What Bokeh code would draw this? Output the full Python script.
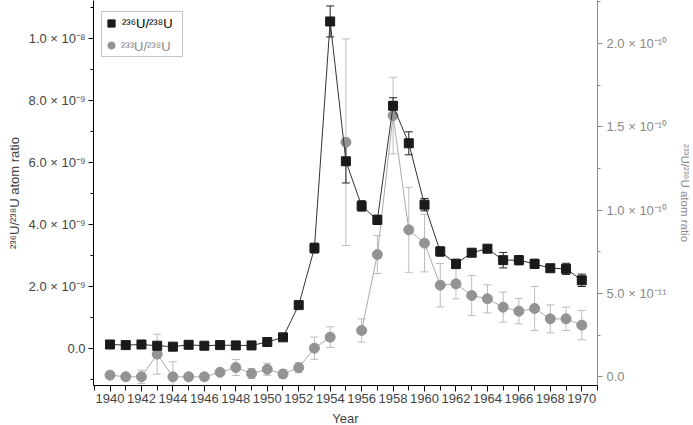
import numpy as np
from bokeh.plotting import figure
from bokeh.models import (ColumnDataSource, Range1d, LinearAxis, SingleIntervalTicker,
                          CustomJSTickFormatter, Whisker, TeeHead, Legend, LegendItem)
from bokeh.embed import file_html
from bokeh.resources import INLINE

# ---- data ----
years = [1940, 1941, 1942, 1943, 1944, 1945, 1946, 1947, 1948, 1949, 1950,
         1951, 1952, 1953, 1954, 1955, 1956, 1957, 1958, 1959, 1960,
         1961, 1962, 1963, 1964, 1965, 1966, 1967, 1968, 1969, 1970]

# 236U/238U atom ratio (units of 1e-9)
u236_e9 = [0.12, 0.10, 0.12, 0.08, 0.05, 0.11, 0.08, 0.10, 0.09, 0.09, 0.20,
           0.35, 1.39, 3.23, 10.54, 6.03, 4.59, 4.14, 7.82, 6.61, 4.63,
           3.12, 2.72, 3.08, 3.21, 2.84, 2.84, 2.72, 2.58, 2.56, 2.19]
u236_err_e9 = [0.03, 0.03, 0.03, 0.03, 0.03, 0.03, 0.03, 0.03, 0.03, 0.03, 0.05,
               0.05, 0.05, 0.16, 0.50, 0.70, 0.17, 0.15, 0.26, 0.37, 0.20,
               0.15, 0.15, 0.10, 0.08, 0.25, 0.15, 0.15, 0.10, 0.18, 0.20]

# 233U/238U atom ratio (units of 1e-11)
u233_e11 = [0.10, 0.0, 0.0, 1.36, 0.0, 0.0, 0.0, 0.27, 0.56, 0.20, 0.45,
            0.17, 0.55, 1.72, 2.38, 14.08, 2.78, 7.34, 15.68, 8.82, 8.02,
            5.50, 5.58, 4.88, 4.68, 4.18, 3.94, 4.10, 3.48, 3.48, 3.10]
u233_err_e11 = [0.10, 0.10, 0.40, 1.20, 0.90, 0.15, 0.20, 0.15, 0.48, 0.30, 0.36,
                0.25, 0.30, 0.67, 0.62, 6.20, 0.70, 1.14, 2.30, 2.55, 1.72,
                1.30, 0.90, 1.20, 0.84, 0.90, 0.76, 1.32, 0.84, 0.70, 0.88]
u233_unconnected_year = 1955

x_ticks_major = 2
left_label = "\u00b2\u00b3\u2076U/\u00b2\u00b3\u2078U atom ratio"
right_label = "\u00b2\u00b3\u00b3U/\u00b2\u00b3\u2078U atom ratio"
legend_236 = "\u00b2\u00b3\u2076U/\u00b2\u00b3\u2078U"
legend_233 = "\u00b2\u00b3\u00b3U/\u00b2\u00b3\u2078U"

# ---- sources ----
yr = np.array(years, dtype=float)
v236 = np.array(u236_e9) * 1e-9
e236 = np.array(u236_err_e9) * 1e-9
v233 = np.array(u233_e11) * 1e-11
e233 = np.array(u233_err_e11) * 1e-11
v233_line = np.where(yr == u233_unconnected_year, np.nan, v233)

src236 = ColumnDataSource(dict(x=yr, y=v236, lo=v236 - e236, hi=v236 + e236))
src233 = ColumnDataSource(dict(x=yr, y=v233, yl=v233_line, lo=v233 - e233, hi=v233 + e233))

FONT = "Liberation Sans"
GRAY_MARK = "#939393"
GRAY_LINE = "#aaaaaa"
GRAY_ERR = "#bdbdbd"
GRAY_AXIS = "#8a8a8a"

FH = 385
p = figure(width=690, height=425, output_backend="svg", toolbar_location=None,
           x_range=Range1d(1938.95, 1971.0), y_range=Range1d(-1.203e-9, 1.1216e-8),
           y_axis_location=None, x_axis_location=None)
p.frame_width = 504
p.frame_height = FH
p.min_border_left = 93
p.min_border_right = 93
p.min_border_top = 0
p.min_border_bottom = 40
p.outline_line_color = None
p.xgrid.visible = False
p.ygrid.visible = False
p.background_fill_color = "white"
p.border_fill_color = "white"

p.extra_y_ranges = {"r": Range1d(-5.22e-12, 2.2587e-10)}

sci_code = """
if (Math.abs(tick) < 1e-20) { return "0.0"; }
const e = Math.floor(Math.log10(Math.abs(tick)) + 1e-6);
const m = tick / Math.pow(10, e);
const sup = {"-":"\u207b","0":"\u2070","1":"\u00b9","2":"\u00b2","3":"\u00b3","4":"\u2074","5":"\u2075","6":"\u2076","7":"\u2077","8":"\u2078","9":"\u2079"};
const s = String(e).split("").map(c => sup[c]).join("");
return m.toFixed(1) + " \u00d7 10" + s;
"""

# left axis
la = LinearAxis(ticker=SingleIntervalTicker(interval=2e-9, num_minor_ticks=2),
                formatter=CustomJSTickFormatter(code=sci_code))
la.axis_label = left_label
la.axis_label_text_font = FONT
la.axis_label_text_font_size = "13px"
la.axis_label_text_font_style = "normal"
la.axis_label_standoff = 4
la.major_label_text_font = FONT
la.major_label_text_font_size = "13px"
la.major_label_standoff = 3
la.major_tick_in = 0
la.major_tick_out = 5
la.minor_tick_in = 0
la.minor_tick_out = 3
la.axis_line_color = "black"
p.add_layout(la, "left")

# right axis
ra = LinearAxis(y_range_name="r", ticker=SingleIntervalTicker(interval=5e-11, num_minor_ticks=2),
                formatter=CustomJSTickFormatter(code=sci_code))
ra.axis_label = right_label
ra.axis_label_text_font = FONT
ra.axis_label_text_font_size = "11.5px"
ra.axis_label_text_font_style = "normal"
ra.axis_label_text_color = GRAY_AXIS
ra.axis_label_standoff = 9
ra.major_label_text_font = FONT
ra.major_label_text_font_size = "13px"
ra.major_label_text_color = GRAY_AXIS
ra.major_label_standoff = 4
ra.major_tick_in = 0
ra.major_tick_out = 5
ra.minor_tick_in = 0
ra.minor_tick_out = 3
ra.axis_line_color = GRAY_AXIS
ra.major_tick_line_color = GRAY_AXIS
ra.minor_tick_line_color = GRAY_AXIS
p.add_layout(ra, "right")

# bottom axis
xa = LinearAxis(ticker=SingleIntervalTicker(interval=x_ticks_major, num_minor_ticks=2))
xa.axis_label = "Year"
xa.axis_label_text_font = FONT
xa.axis_label_text_font_size = "13px"
xa.axis_label_text_font_style = "normal"
xa.axis_label_standoff = 5
xa.major_label_text_font = FONT
xa.major_label_text_font_size = "13px"
xa.major_label_standoff = 2
xa.major_tick_in = 0
xa.major_tick_out = 6
xa.minor_tick_in = 0
xa.minor_tick_out = 5
xa.axis_line_color = "black"
p.add_layout(xa, "below")

# error bars
w233 = Whisker(source=src233, base="x", lower="lo", upper="hi", dimension="height",
               y_range_name="r", line_color=GRAY_ERR, line_width=1,
               upper_head=TeeHead(size=8, line_color=GRAY_ERR, line_width=1),
               lower_head=TeeHead(size=8, line_color=GRAY_ERR, line_width=1))
p.add_layout(w233)
w236 = Whisker(source=src236, base="x", lower="lo", upper="hi", dimension="height",
               line_color="#222222", line_width=1,
               upper_head=TeeHead(size=8, line_color="#222222", line_width=1),
               lower_head=TeeHead(size=8, line_color="#222222", line_width=1))
p.add_layout(w236)

# 233 series (right axis)
p.line("x", "yl", source=src233, y_range_name="r", line_color=GRAY_LINE, line_width=1)
r233 = p.scatter("x", "y", source=src233, y_range_name="r", marker="circle", size=10,
                 fill_color=GRAY_MARK, line_color=GRAY_MARK)

# 236 series (left axis)
p.line("x", "y", source=src236, line_color="#333333", line_width=1)
r236 = p.scatter("x", "y", source=src236, marker="square", size=9,
                 fill_color="#1a1a1a", line_color="#1a1a1a")

# invisible renderer for second legend row label (gray text)
dummy = p.scatter(x=[], y=[], marker="circle", size=10, fill_alpha=0, line_alpha=0)

leg_bottom = FH - 57
common = dict(padding=0, spacing=0, glyph_height=22, glyph_width=18, label_height=22,
              label_width=60, label_standoff=2, margin=0,
              label_text_font=FONT, label_text_font_size="13px")
leg1 = Legend(items=[LegendItem(label=legend_236, renderers=[r236]),
                     LegendItem(label=" ", renderers=[r233])],
              location=(8, leg_bottom), border_line_color="#8a8a8a", border_line_width=1,
              background_fill_color="white", background_fill_alpha=1.0,
              label_text_color="black", **common)
leg2 = Legend(items=[LegendItem(label=legend_233, renderers=[dummy])],
              location=(8, leg_bottom), border_line_color=None,
              background_fill_alpha=0.0, label_text_color=GRAY_AXIS, **common)
p.add_layout(leg1)
p.add_layout(leg2)

open("out.html", "w").write(file_html(p, INLINE))
